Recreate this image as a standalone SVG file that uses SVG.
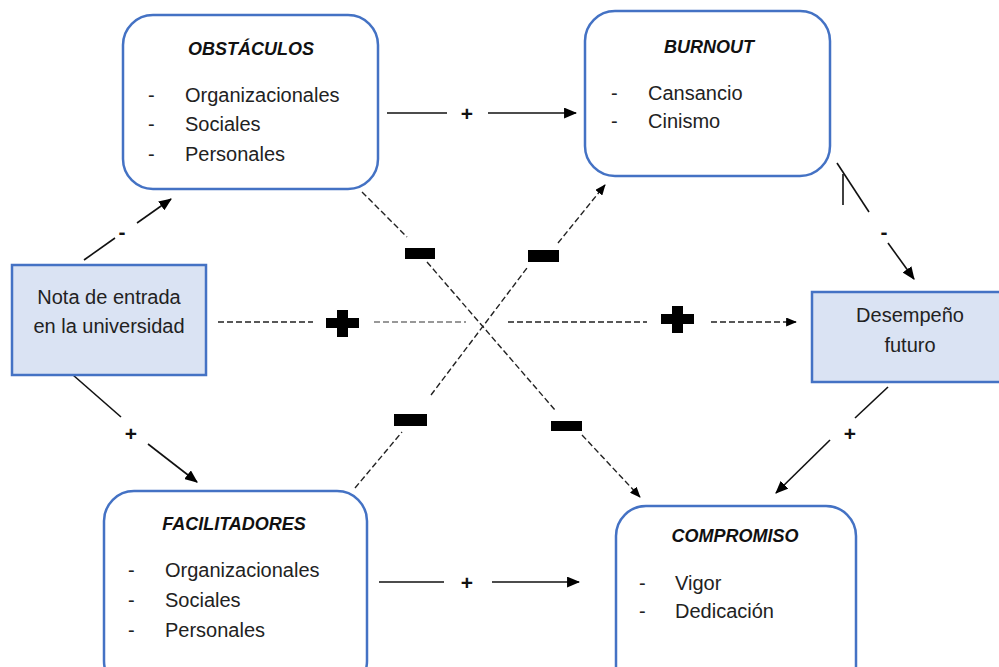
<svg xmlns="http://www.w3.org/2000/svg" width="999" height="667" viewBox="0 0 999 667">
<defs>
<marker id="ah" viewBox="0 0 12 10" refX="11" refY="5" markerWidth="13" markerHeight="11" markerUnits="userSpaceOnUse" orient="auto">
<path d="M0,0 L12,5 L0,10 Z" fill="#000"/>
</marker>
<marker id="ahs" viewBox="0 0 12 10" refX="11" refY="5" markerWidth="11" markerHeight="9" markerUnits="userSpaceOnUse" orient="auto">
<path d="M0,0 L12,5 L0,10 Z" fill="#000"/>
</marker>
</defs>
<style>
.box{fill:#fff;stroke:#4472C4;stroke-width:2.5}
.rbox{fill:#DAE3F3;stroke:#4472C4;stroke-width:2.5}
.t{font-family:"Liberation Sans",Arial,sans-serif;font-size:20px;fill:#222}
.ti{font-family:"Liberation Sans",Arial,sans-serif;font-size:18px;font-weight:bold;font-style:italic;fill:#111;text-anchor:middle}
.c{text-anchor:middle}
.sl{stroke:#111;stroke-width:1.6;fill:none}
.dl{stroke:#222;stroke-width:1.4;stroke-dasharray:6 3;fill:none}
.dg{stroke:#777;stroke-width:1.6;stroke-dasharray:6 3;fill:none}
.sg{font-family:"Liberation Sans",Arial,sans-serif;font-size:21px;font-weight:bold;fill:#111;text-anchor:middle}
.sym{fill:#000}
</style>
<rect width="999" height="667" fill="#fff"/>

<g id="connectors">
<!-- Obstaculos -> Burnout -->
<line class="sl" x1="387" y1="113" x2="447" y2="113"/>
<line class="sl" x1="488" y1="113" x2="576" y2="113" marker-end="url(#ah)"/>
<text class="sg" x="467" y="121">+</text>
<!-- Facilitadores -> Compromiso -->
<line class="sl" x1="379" y1="582" x2="444" y2="582"/>
<line class="sl" x1="492" y1="582" x2="579" y2="582" marker-end="url(#ah)"/>
<text class="sg" x="467" y="590">+</text>
<!-- Nota -> Obstaculos -->
<line class="sl" x1="84" y1="260" x2="115" y2="238"/>
<line class="sl" x1="137" y1="223" x2="171" y2="199" marker-end="url(#ah)"/>
<text class="sg" x="122" y="239">-</text>
<!-- Nota -> Facilitadores -->
<line class="sl" x1="73" y1="375" x2="121" y2="417"/>
<line class="sl" x1="148" y1="444" x2="197" y2="482" marker-end="url(#ah)"/>
<text class="sg" x="131" y="441">+</text>
<!-- Burnout -> Desempeno -->
<line class="sl" x1="837" y1="163" x2="869" y2="212"/>
<line class="sl" x1="843" y1="174" x2="843" y2="205"/>
<line class="sl" x1="888" y1="243" x2="914" y2="279" marker-end="url(#ah)"/>
<text class="sg" x="884" y="239">-</text>
<!-- Desempeno -> Compromiso -->
<line class="sl" x1="888" y1="387" x2="855" y2="418"/>
<line class="sl" x1="830" y1="440" x2="776" y2="493" marker-end="url(#ah)"/>
<text class="sg" x="850" y="441">+</text>
<!-- Nota -> Desempeno (dashed) -->
<line class="dl" x1="218" y1="322" x2="313" y2="322"/>
<line class="dg" x1="374" y1="322" x2="466" y2="322"/>
<line class="dl" x1="508" y1="322" x2="647" y2="322"/>
<line class="dl" x1="711" y1="322" x2="796" y2="322" marker-end="url(#ahs)"/>
<!-- Obstaculos -> Compromiso (dashed) -->
<line class="dl" x1="362" y1="192" x2="407" y2="237"/>
<line class="dl" x1="427" y1="262" x2="555" y2="410"/>
<line class="dl" x1="582" y1="435" x2="640" y2="497" marker-end="url(#ahs)"/>
<!-- Facilitadores -> Burnout (dashed) -->
<line class="dl" x1="355" y1="488" x2="402" y2="432"/>
<line class="dl" x1="431" y1="395" x2="527" y2="268"/>
<line class="dl" x1="558" y1="243" x2="605" y2="185" marker-end="url(#ahs)"/>
<!-- big minus signs -->
<rect class="sym" x="405" y="248" width="30" height="11"/>
<rect class="sym" x="528" y="250" width="31" height="12"/>
<rect class="sym" x="394" y="414" width="33" height="12"/>
<rect class="sym" x="551" y="421" width="31" height="10"/>
<!-- big plus signs -->
<rect class="sym" x="326" y="318" width="33" height="10"/>
<rect class="sym" x="337" y="310" width="11" height="27"/>
<rect class="sym" x="661" y="314" width="33" height="10"/>
<rect class="sym" x="672" y="306" width="11" height="27"/>
</g>

<g id="obstaculos">
<rect class="box" x="123" y="15" width="255" height="174" rx="30"/>
<text class="ti" x="251" y="55">OBSTÁCULOS</text>
<text class="t" x="148" y="102">-</text>
<text class="t" x="185" y="102">Organizacionales</text>
<text class="t" x="148" y="131">-</text>
<text class="t" x="185" y="131">Sociales</text>
<text class="t" x="148" y="161">-</text>
<text class="t" x="185" y="161">Personales</text>
</g>

<g id="burnout">
<rect class="box" x="585" y="11" width="245" height="165" rx="30"/>
<text class="ti" x="709" y="53">BURNOUT</text>
<text class="t" x="611" y="100">-</text>
<text class="t" x="648" y="100">Cansancio</text>
<text class="t" x="611" y="128">-</text>
<text class="t" x="648" y="128">Cinismo</text>
</g>

<g id="nota">
<rect class="rbox" x="12" y="265" width="194" height="110"/>
<text class="t c" x="109" y="304">Nota de entrada</text>
<text class="t c" x="109" y="333">en la universidad</text>
</g>

<g id="desempeno">
<rect class="rbox" x="812" y="292" width="200" height="90"/>
<text class="t c" x="910" y="322">Desempeño</text>
<text class="t c" x="910" y="352">futuro</text>
</g>

<g id="facilitadores">
<rect class="box" x="104" y="491" width="263" height="200" rx="30"/>
<text class="ti" x="234" y="530">FACILITADORES</text>
<text class="t" x="128" y="577">-</text>
<text class="t" x="165" y="577">Organizacionales</text>
<text class="t" x="128" y="607">-</text>
<text class="t" x="165" y="607">Sociales</text>
<text class="t" x="128" y="637">-</text>
<text class="t" x="165" y="637">Personales</text>
</g>

<g id="compromiso">
<rect class="box" x="616" y="506" width="240" height="190" rx="30"/>
<text class="ti" x="735" y="542">COMPROMISO</text>
<text class="t" x="639" y="590">-</text>
<text class="t" x="675" y="590">Vigor</text>
<text class="t" x="639" y="618">-</text>
<text class="t" x="675" y="618">Dedicación</text>
</g>
</svg>
